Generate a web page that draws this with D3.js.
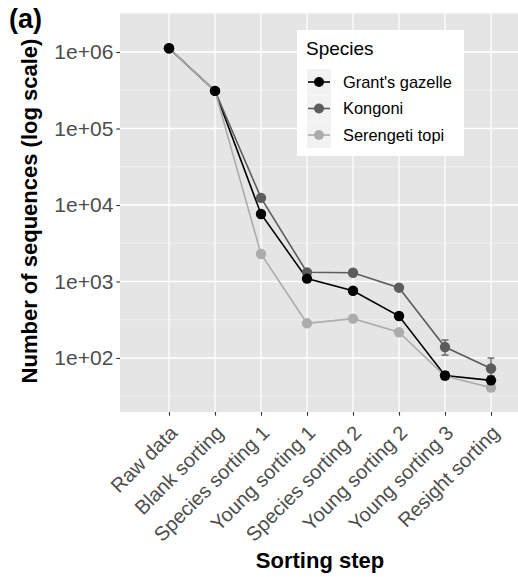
<!DOCTYPE html>
<html><head><meta charset="utf-8">
<script src="https://cdn.jsdelivr.net/npm/d3@7"></script>
<style>body{margin:0;background:#fff;} text{font-family:"Liberation Sans",Arial,sans-serif;}</style>
</head><body><svg id="c" width="518" height="577"></svg>
<script>
const categories = ["Raw data","Blank sorting","Species sorting 1","Young sorting 1","Species sorting 2","Young sorting 2","Young sorting 3","Resight sorting"];
const speciesNames = ["Grant's gazelle","Kongoni","Serengeti topi"];
const grant   = [1120000, 310000, 7630, 1090, 758, 354, 59, 51];
const kongoni = [1120000, 310000, 12400, 1318, 1303, 830, 139, 73];
const topi    = [1120000, 310000, 2290, 284, 327, 217, 58, 41];
const grantLo   = [null,null,null,null,null,null,53,46];
const grantHi   = [null,null,null,null,null,null,66,58];
const kongoniLo = [null,null,null,null,null,null,109,55];
const kongoniHi = [null,null,null,null,null,null,172,100];
const topiLo    = [null,null,null,null,null,null,55,37];
const topiHi    = [null,null,null,null,null,null,62,45];
const yTicks = [1e2,1e3,1e4,1e5,1e6];
const yTickLabels = ["1e+02","1e+03","1e+04","1e+05","1e+06"];
const colors = ["#000000","#5c5c5c","#acacac"];

const series = [
  {name:speciesNames[0], v:grant, lo:grantLo, hi:grantHi, c:colors[0]},
  {name:speciesNames[1], v:kongoni, lo:kongoniLo, hi:kongoniHi, c:colors[1]},
  {name:speciesNames[2], v:topi, lo:topiLo, hi:topiHi, c:colors[2]}
];

const svg = d3.select("#c");
const L=120, R=518, T=13, B=412;
const x = d3.scalePoint().domain(categories).range([169, 491]);
const y = d3.scaleLog().domain([Math.pow(10,1.2941), Math.pow(10,6.5098)]).range([B, T]);

svg.append("rect").attr("x",L).attr("y",T).attr("width",R-L).attr("height",B-T).attr("fill","#e5e5e5");
const g = svg.append("g");
// minor grid
const minor = [1.5,2.5,3.5,4.5,5.5,6.5].map(e=>Math.pow(10,e)).filter(v=>y(v)>=T && y(v)<=B);
g.selectAll(".mn").data(minor).enter().append("line")
  .attr("x1",L).attr("x2",R).attr("y1",d=>y(d)).attr("y2",d=>y(d)).attr("stroke","#f6f6f6").attr("stroke-width",0.6);
g.selectAll(".mj").data(yTicks).enter().append("line")
  .attr("x1",L).attr("x2",R).attr("y1",d=>y(d)).attr("y2",d=>y(d)).attr("stroke","#fff").attr("stroke-width",1.3);
g.selectAll(".vx").data(categories).enter().append("line")
  .attr("y1",T).attr("y2",B).attr("x1",d=>x(d)).attr("x2",d=>x(d)).attr("stroke","#fff").attr("stroke-width",1.3);

// axes
const yAxis = svg.append("g").attr("transform",`translate(${L},0)`)
  .call(d3.axisLeft(y).tickValues(yTicks).tickFormat((d,i)=>yTickLabels[i]).tickSize(3.7).tickPadding(3));
yAxis.select(".domain").remove();
yAxis.selectAll("line").attr("stroke","#333").attr("stroke-width",1.1);
yAxis.selectAll("text").attr("fill","#4d4d4d").style("font-size","21px").style("font-family","Liberation Sans, Arial, sans-serif");

const xAxis = svg.append("g").attr("transform",`translate(0,${B})`)
  .call(d3.axisBottom(x).tickSize(3.7).tickPadding(3));
xAxis.select(".domain").remove();
xAxis.selectAll("line").attr("stroke","#333").attr("stroke-width",1.1);
xAxis.selectAll("text").attr("fill","#4d4d4d").style("font-size","20px").style("font-family","Liberation Sans, Arial, sans-serif")
  .attr("text-anchor","end").attr("dy",null).attr("y",null)
  .attr("transform","translate(-1,12) rotate(-45)").attr("dy","0.72em");

// lines
const line = d3.line().x((d,i)=>x(categories[i])).y(d=>y(d));
series.forEach(s=>{
  svg.append("path").attr("d",line(s.v)).attr("fill","none").attr("stroke",s.c).attr("stroke-width",1.6);
});
// points + error bars (draw topi first so Grant's is on top)
[...series].reverse().forEach(s=>{
  const gg = svg.append("g");
  s.v.forEach((v,i)=>{
    const cx = x(categories[i]);
    if(s.lo[i]!=null){
      gg.append("line").attr("x1",cx).attr("x2",cx).attr("y1",y(s.lo[i])).attr("y2",y(s.hi[i])).attr("stroke",s.c).attr("stroke-width",1.3);
      [s.lo[i],s.hi[i]].forEach(e=>gg.append("line").attr("x1",cx-3.5).attr("x2",cx+3.5).attr("y1",y(e)).attr("y2",y(e)).attr("stroke",s.c).attr("stroke-width",1.3));
    }
  });
  gg.selectAll("circle").data(s.v).enter().append("circle")
    .attr("cx",(d,i)=>x(categories[i])).attr("cy",d=>y(d)).attr("r",5.2).attr("fill",s.c);
});

// legend
const lg = svg.append("g");
lg.append("rect").attr("x",297).attr("y",30).attr("width",167).attr("height",126).attr("fill","#fff");
lg.append("text").attr("x",306).attr("y",55).text("Species").style("font-size","19px").attr("fill","#000");
series.forEach((s,i)=>{
  const cy = 82 + i*26.5;
  lg.append("rect").attr("x",307).attr("y",cy-13).attr("width",24).attr("height",26).attr("fill","#f2f2f2");
  lg.append("line").attr("x1",308).attr("x2",330).attr("y1",cy).attr("y2",cy).attr("stroke",s.c).attr("stroke-width",1.6);
  lg.append("circle").attr("cx",319).attr("cy",cy).attr("r",5).attr("fill",s.c);
  lg.append("text").attr("x",343).attr("y",cy).attr("dy","0.36em").text(s.name).style("font-size","16.4px").attr("fill","#000");
});

// titles
svg.append("text").attr("x",320).attr("y",568).attr("text-anchor","middle").style("font-size","22px").style("font-weight","bold").text("Sorting step");
svg.append("text").attr("transform","translate(37,211) rotate(-90)").attr("text-anchor","middle").style("font-size","22px").style("font-weight","bold").text("Number of sequences (log scale)");
svg.append("text").attr("x",9).attr("y",28).style("font-size","27px").style("font-weight","bold").text("(a)");
</script></body></html>
